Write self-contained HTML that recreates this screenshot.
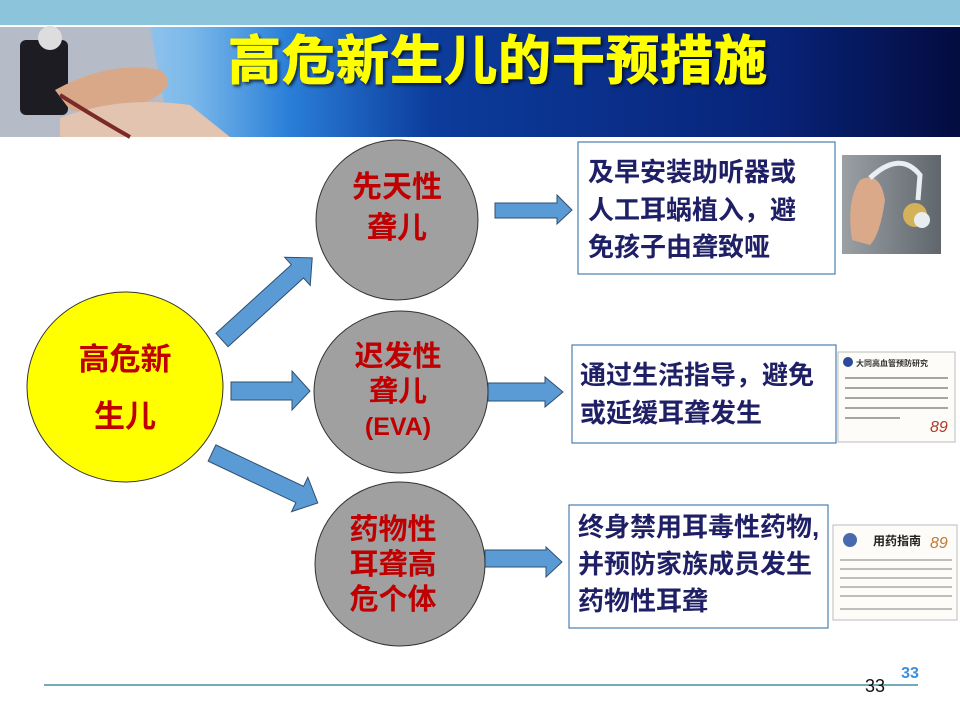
<!DOCTYPE html>
<html><head><meta charset="utf-8"><style>
html,body{margin:0;padding:0;background:#fff;}
svg{display:block;font-family:"Liberation Sans","Noto Sans CJK SC",sans-serif;}
</style></head><body>
<svg width="960" height="720" viewBox="0 0 960 720" xmlns="http://www.w3.org/2000/svg">
<defs>
<linearGradient id="bn" x1="0" x2="1" y1="0" y2="0">
<stop offset="0" stop-color="#d8e6f2"/>
<stop offset="0.2" stop-color="#7ab8ea"/>
<stop offset="0.3" stop-color="#2a7fd8"/>
<stop offset="0.45" stop-color="#0c3c9c"/>
<stop offset="0.8" stop-color="#08247a"/>
<stop offset="1" stop-color="#040c40"/>
</linearGradient>
<linearGradient id="ha" x1="0" x2="1"><stop offset="0" stop-color="#9aa0a4"/><stop offset="1" stop-color="#5f666c"/></linearGradient>
<filter id="sh"><feDropShadow dx="2" dy="2" stdDeviation="1.5" flood-color="#000" flood-opacity="0.7"/></filter>
</defs>
<rect x="0" y="0" width="960" height="25" fill="#8cc4dc"/>
<rect x="0" y="27" width="960" height="110" fill="url(#bn)"/>
<rect x="0" y="27" width="150" height="110" fill="#c9cdd6"/>
<path d="M0,27 L150,27 L170,137 L0,137Z" fill="#b5bcc8"/>
<rect x="20" y="40" width="48" height="75" rx="6" fill="#1c1c22"/>
<circle cx="50" cy="38" r="12" fill="#ddd"/>
<path d="M55,90 Q110,60 160,70 Q180,85 150,100 Q110,115 70,110Z" fill="#d9a888"/>
<path d="M60,118 Q120,95 190,105 L230,137 L60,137Z" fill="#e2c4b0"/>
<path d="M60,95 Q100,120 130,137" stroke="#7a2a2a" stroke-width="4" fill="none"/>
<text x="498" y="79" text-anchor="middle" font-size="53" font-weight="bold" fill="#ffff00" filter="url(#sh)" letter-spacing="1" stroke="#ffff00" stroke-width="1">高危新生儿的干预措施</text>

<g fill="#5b9bd5" stroke="#2f4f6f" stroke-width="1">
<polygon points="231,382 292,382 292,371 310,391 292,410 292,400 231,400"/>
<polygon points="488,383 545,383 545,377 563,392 545,407 545,401 488,401"/>
<polygon points="495,203 557,203 557,195 572,210 557,224 557,218 495,218"/>
<polygon points="485,550 546,550 546,547 562,562 546,577 546,567 485,567"/>
<g transform="translate(222,340) rotate(-42.3)"><polygon points="0,-9 102,-9 102,-19 122,0 102,19 102,9 0,9"/></g>
<g transform="translate(212,453) rotate(25.3)"><polygon points="0,-9 97,-9 97,-19 117,0 97,19 97,9 0,9"/></g>
</g>

<ellipse cx="125" cy="387" rx="98" ry="95" fill="#ffff00" stroke="#333" stroke-width="1"/>
<ellipse cx="397" cy="220" rx="81" ry="80" fill="#a0a0a0" stroke="#333" stroke-width="1"/>
<ellipse cx="401" cy="392" rx="87" ry="81" fill="#a0a0a0" stroke="#333" stroke-width="1"/>
<ellipse cx="400" cy="564" rx="85" ry="82" fill="#a0a0a0" stroke="#333" stroke-width="1"/>

<g fill="#c00000" font-weight="bold" text-anchor="middle">
<text x="125" y="370" font-size="31">高危新</text>
<text x="125" y="427" font-size="31">生儿</text>
<text x="397" y="197" font-size="30">先天性</text>
<text x="397" y="238" font-size="30">聋儿</text>
<text x="398" y="366" font-size="29">迟发性</text>
<text x="398" y="401" font-size="29">聋儿</text>
<text x="398" y="435" font-size="25">(EVA)</text>
<text x="393" y="539" font-size="29">药物性</text>
<text x="393" y="574" font-size="29">耳聋高</text>
<text x="393" y="609" font-size="29">危个体</text>
</g>

<g fill="#fff" stroke="#4a7fb0" stroke-width="1.2">
<rect x="578" y="142" width="257" height="132"/>
<rect x="572" y="345" width="264" height="98"/>
<rect x="569" y="505" width="259" height="123"/>
</g>
<g fill="#1f1f66" font-weight="bold" font-size="26">
<text x="588" y="181">及早安装助听器或</text>
<text x="588" y="219">人工耳蜗植入，避</text>
<text x="588" y="256">免孩子由聋致哑</text>
<text x="580" y="384">通过生活指导，避免</text>
<text x="580" y="422">或延缓耳聋发生</text>
<text x="578" y="536">终身禁用耳毒性药物,</text>
<text x="578" y="573">并预防家族成员发生</text>
<text x="578" y="610">药物性耳聋</text>
</g>

<rect x="842" y="155" width="99" height="99" fill="url(#ha)"/>
<path d="M852,240 Q846,200 860,180 Q880,170 885,200 Q880,235 870,245Z" fill="#d9a98a"/>
<path d="M870,178 Q900,150 920,175 L918,200" stroke="#e8eef2" stroke-width="5" fill="none"/>
<circle cx="915" cy="215" r="12" fill="#d4b25a"/>
<circle cx="922" cy="220" r="8" fill="#e8eef0"/>
<rect x="838" y="352" width="117" height="90" fill="#fdfcf8" stroke="#bbb"/>
<circle cx="848" cy="362" r="5" fill="#2a4a9a"/>
<text x="856" y="366" font-size="8" fill="#333" font-weight="bold">大同高血管预防研究</text>
<g stroke="#888" stroke-width="1.5"><line x1="845" y1="378" x2="948" y2="378"/><line x1="845" y1="388" x2="948" y2="388"/><line x1="845" y1="398" x2="948" y2="398"/><line x1="845" y1="408" x2="948" y2="408"/><line x1="845" y1="418" x2="900" y2="418"/></g>
<text x="930" y="432" font-size="16" fill="#b03a2a" font-style="italic">89</text>
<rect x="833" y="525" width="124" height="95" fill="#fdfcf8" stroke="#bbb"/>
<circle cx="850" cy="540" r="7" fill="#4a6ab0"/>
<text x="873" y="545" font-size="12" fill="#222" font-weight="bold">用药指南</text>
<text x="930" y="548" font-size="16" fill="#c07a3a" font-style="italic">89</text>
<g stroke="#999" stroke-width="1.3"><line x1="840" y1="560" x2="952" y2="560"/><line x1="840" y1="569" x2="952" y2="569"/><line x1="840" y1="578" x2="952" y2="578"/><line x1="840" y1="587" x2="952" y2="587"/><line x1="840" y1="596" x2="952" y2="596"/><line x1="840" y1="609" x2="952" y2="609"/></g>

<line x1="44" y1="685" x2="918" y2="685" stroke="#1f7a8a" stroke-width="1.2"/>
<text x="910" y="678" text-anchor="middle" font-size="16" fill="#3a8ee0" font-weight="bold">33</text>
<text x="875" y="692" text-anchor="middle" font-size="18" fill="#111">33</text>
</svg>
</body></html>
